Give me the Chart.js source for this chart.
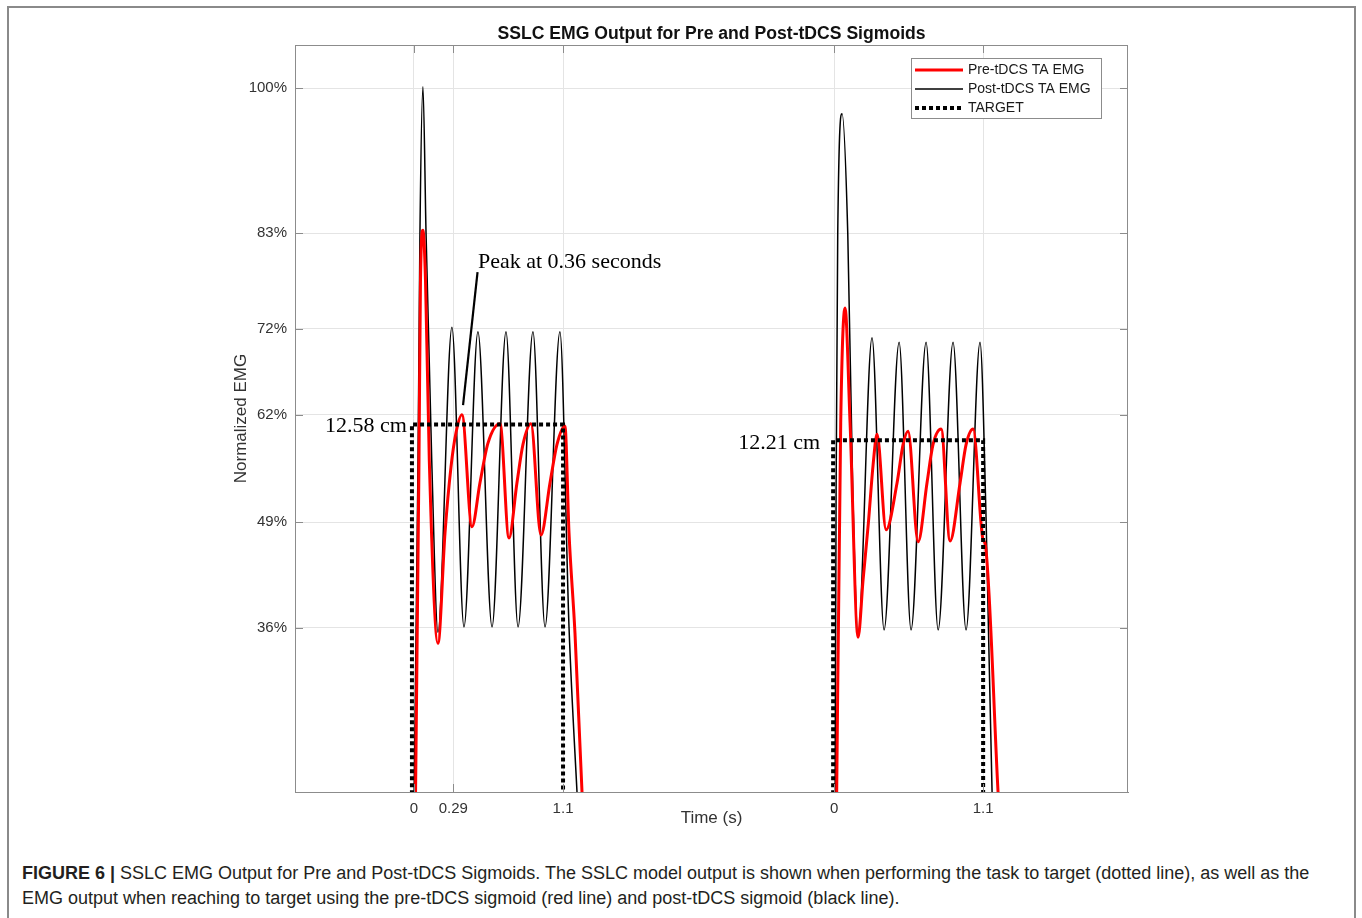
<!DOCTYPE html>
<html>
<head>
<meta charset="utf-8">
<title>SSLC EMG Output for Pre and Post-tDCS Sigmoids</title>
<script src="https://cdn.jsdelivr.net/npm/chart.js@4.4.1/dist/chart.umd.min.js"></script>
<style>
  html, body { margin: 0; padding: 0; background: #fff; overflow: hidden; }
  body { width: 1362px; height: 918px; position: relative; font-family: "Liberation Sans", Arial, sans-serif; }
  #frame {
    position: absolute; left: 7px; top: 6px; width: 1345px; height: 1000px;
    border: 2px solid #8a8a8a; border-bottom: none;
  }
  #wrap { position: absolute; left: 0; top: 0; width: 1362px; height: 840px; }
  #caption {
    position: absolute; left: 22px; top: 861px;
    font-size: 18px; line-height: 25px; color: #231f20; white-space: nowrap;
  }
  #caption b { font-weight: bold; }
</style>
</head>
<body>
<div id="frame"></div>
<div id="wrap"><canvas id="emgChart"></canvas></div>
<div id="caption"><b>FIGURE 6 |</b> SSLC EMG Output for Pre and Post-tDCS Sigmoids. The SSLC model output is shown when performing the task to target (dotted line), as well as the<br>EMG output when reaching to target using the pre-tDCS sigmoid (red line) and post-tDCS sigmoid (black line).</div>
<script>
// time in seconds from movement onset, EMG on the plot's own vertical scale (0 = axis floor, 100 = top)
const postTime1 = [-0.004, 0.030, 0.044, 0.066, 0.089, 0.131, 0.177, 0.280, 0.369, 0.472, 0.576, 0.679, 0.768, 0.878, 0.967, 1.077, 1.144, 1.203, 1.218];
const postEmg1  = [-7.8, 44.4, 74.8, 94.4, 74.8, 44.4, 21.4, 62.2, 22.1, 61.6, 22.1, 61.6, 22.1, 61.6, 22.1, 61.6, 22.1, 0, -5];

const preTime1 = [0.007, 0.037, 0.048, 0.066, 0.085, 0.113, 0.177, 0.229, 0.273, 0.310, 0.354, 0.428, 0.487, 0.546, 0.635, 0.701, 0.760, 0.804, 0.863, 0.937, 1.004, 1.055, 1.114, 1.144, 1.188, 1.240, 1.255];
const preEmg1  = [-7.8, 44.4, 68.5, 75.2, 68.5, 44.4, 19.9, 34.7, 43.5, 48.1, 50.5, 35.5, 41.4, 46.7, 49.3, 34.0, 41.4, 46.5, 49.3, 34.4, 41.4, 46.5, 49.0, 34.7, 21.3, 0, -5];

const postTime2 = [0.007, 0.015, 0.027, 0.059, 0.101, 0.138, 0.177, 0.280, 0.369, 0.480, 0.568, 0.679, 0.768, 0.878, 0.974, 1.077, 1.122, 1.166, 1.181];
const postEmg2  = [-7.8, 40.4, 74.8, 90.8, 74.8, 40.4, 21.0, 60.8, 21.7, 60.2, 21.7, 60.2, 21.7, 60.2, 21.7, 60.2, 36.4, 0, -5];

const preTime2 = [0.015, 0.049, 0.081, 0.118, 0.177, 0.214, 0.253, 0.288, 0.317, 0.384, 0.465, 0.509, 0.546, 0.620, 0.686, 0.730, 0.790, 0.856, 0.930, 0.974, 1.026, 1.100, 1.114, 1.210, 1.225];
const preEmg2  = [-7.8, 49.4, 64.8, 49.4, 20.7, 28.4, 36.0, 43.8, 47.9, 35.1, 41.4, 46.5, 48.3, 33.5, 41.4, 46.5, 48.6, 33.6, 41.4, 46.5, 48.6, 33.7, 33.3, 0, -5];

const targetTime1  = [-0.015, -0.015, 1.1, 1.1];
const targetLevel1 = [-5, 49.2, 49.2, -5];
const targetTime2  = [-0.007, -0.007, 1.1, 1.1];
const targetLevel2 = [-5, 47.1, 47.1, -5];

const trial2Start = 3.1;   // second trial is drawn further along the same axis

const xTicks      = [0, 0.29, 1.1, 3.1, 4.2];
const xTickLabels = ['0', '0.29', '1.1', '0', '1.1'];
const yTicks      = [22.0, 36.1, 50.5, 62.0, 74.8, 94.2];
const yTickLabels = ['36%', '49%', '62%', '72%', '83%', '100%'];

const notes = [
  { text: 'Peak at 0.36 seconds', x: 0.472, y: 70.9, align: 'left' },
  { text: '12.58 cm', x: -0.052, y: 49.0, align: 'right' },
  { text: '12.21 cm', x: trial2Start - 0.103, y: 46.7, align: 'right' }
];
const peakArrow = { from: [0.469, 69.6], to: [0.362, 51.8] };

const SANS = '"Liberation Sans", Arial, sans-serif';
const SERIF = '"Liberation Serif", "Times New Roman", serif';
Chart.defaults.font.family = SANS;

function series(t1, v1, t2, v2) {
    const pts = t1.map((t, i) => ({ x: t, y: v1[i] }));
    pts.push({ x: 2, y: null });
    t2.forEach((t, i) => pts.push({ x: t + trial2Start, y: v2[i] }));
    return pts;
}

// title, legend, notes, box and inward ticks like the MATLAB figure
const extras = {
    id: 'extras',
    afterDatasetsDraw(chart) {
        const { ctx, chartArea: a, scales: { x, y } } = chart;
        ctx.save();

        // axes box + inward ticks
        ctx.strokeStyle = '#8c8c8c';
        ctx.lineWidth = 1;
        ctx.strokeRect(a.left + 0.5, a.top + 0.5, a.right - a.left - 1, a.bottom - a.top);
        ctx.beginPath();
        yTicks.forEach(v => {
            const py = Math.round(y.getPixelForValue(v)) + 0.5;
            ctx.moveTo(a.left, py); ctx.lineTo(a.left + 8, py);
            ctx.moveTo(a.right, py); ctx.lineTo(a.right - 8, py);
        });
        xTicks.forEach(v => {
            const px = Math.round(x.getPixelForValue(v)) + 0.5;
            ctx.moveTo(px, a.bottom); ctx.lineTo(px, a.bottom - 8);
            ctx.moveTo(px, a.top); ctx.lineTo(px, a.top + 8);
        });
        ctx.stroke();

        // title
        ctx.fillStyle = '#111';
        ctx.font = 'bold 17.6px ' + SANS;
        ctx.textAlign = 'center';
        ctx.textBaseline = 'middle';
        ctx.fillText('SSLC EMG Output for Pre and Post-tDCS Sigmoids', (a.left + a.right) / 2, 34);

        // annotations
        ctx.fillStyle = '#000';
        ctx.font = '22px ' + SERIF;
        notes.forEach(n => {
            ctx.textAlign = n.align;
            ctx.fillText(n.text, x.getPixelForValue(n.x), y.getPixelForValue(n.y));
        });
        ctx.strokeStyle = '#000';
        ctx.lineWidth = 2.2;
        ctx.beginPath();
        ctx.moveTo(x.getPixelForValue(peakArrow.from[0]), y.getPixelForValue(peakArrow.from[1]));
        ctx.lineTo(x.getPixelForValue(peakArrow.to[0]), y.getPixelForValue(peakArrow.to[1]));
        ctx.stroke();

        // legend
        const bx = a.right - 217, by = a.top + 13, bw = 190, bh = 60;
        ctx.fillStyle = '#fff';
        ctx.fillRect(bx, by, bw, bh);
        ctx.strokeStyle = '#8c8c8c';
        ctx.lineWidth = 1;
        ctx.strokeRect(bx + 0.5, by + 0.5, bw, bh);
        const order = [1, 0, 2];
        order.forEach((di, row) => {
            const ds = chart.data.datasets[di];
            const ly = by + 12 + row * 19;
            ctx.strokeStyle = ds.borderColor;
            ctx.lineWidth = ds.borderWidth;
            ctx.setLineDash(ds.borderDash || []);
            ctx.beginPath();
            ctx.moveTo(bx + 4, ly); ctx.lineTo(bx + 52, ly);
            ctx.stroke();
            ctx.setLineDash([]);
            ctx.fillStyle = '#1a1a1a';
            ctx.font = '14px ' + SANS;
            ctx.textAlign = 'left';
            ctx.fillText(ds.label, bx + 57, ly + 0.5);
        });
        ctx.restore();
    }
};

new Chart(document.getElementById('emgChart'), {
    type: 'line',
    data: {
        datasets: [
            {
                label: 'Post-tDCS TA EMG',
                data: series(postTime1, postEmg1, postTime2, postEmg2),
                borderColor: '#000000',
                borderWidth: 1.5,
                cubicInterpolationMode: 'monotone',
                order: 2
            },
            {
                label: 'Pre-tDCS TA EMG',
                data: series(preTime1, preEmg1, preTime2, preEmg2),
                borderColor: '#ff0000',
                borderWidth: 3,
                cubicInterpolationMode: 'monotone',
                order: 1
            },
            {
                label: 'TARGET',
                data: series(targetTime1, targetLevel1, targetTime2, targetLevel2),
                borderColor: '#000000',
                borderWidth: 4,
                borderDash: [4, 3],
                tension: 0,
                order: 0
            }
        ]
    },
    options: {
        responsive: true,
        maintainAspectRatio: false,
        animation: false,
        clip: 0,
        layout: { padding: { left: 220, top: 45, right: 234, bottom: 0 } },
        elements: { point: { radius: 0, hoverRadius: 0 }, line: { fill: false } },
        plugins: { legend: { display: false }, tooltip: { enabled: false }, title: { display: false } },
        scales: {
            x: {
                type: 'linear',
                min: -0.878,
                max: 5.269,
                afterBuildTicks: s => { s.ticks = xTicks.map(v => ({ value: v })); },
                afterFit: s => { s.height = 48; },
                ticks: {
                    autoSkip: false,
                    maxRotation: 0,
                    padding: 8,
                    color: '#333',
                    font: { size: 15 },
                    callback: v => xTickLabels[xTicks.indexOf(v)]
                },
                grid: { color: '#e4e4e4', drawTicks: false },
                border: { color: '#8c8c8c' },
                title: { display: true, text: 'Time (s)', color: '#333', font: { size: 17 }, padding: { top: 0, bottom: 11.8 } }
            },
            y: {
                type: 'linear',
                min: 0,
                max: 100,
                afterBuildTicks: s => { s.ticks = yTicks.map(v => ({ value: v })); },
                afterFit: s => { s.width = 75; },
                ticks: {
                    autoSkip: false,
                    padding: 8,
                    color: '#333',
                    font: { size: 15 },
                    callback: v => yTickLabels[yTicks.indexOf(v)]
                },
                grid: { color: '#e4e4e4', drawTicks: false },
                border: { color: '#8c8c8c' },
                title: { display: true, text: 'Normalized EMG', color: '#333', font: { size: 17 }, padding: { top: 10.8, bottom: 0 } }
            }
        }
    },
    plugins: [extras]
});
</script>
</body>
</html>
